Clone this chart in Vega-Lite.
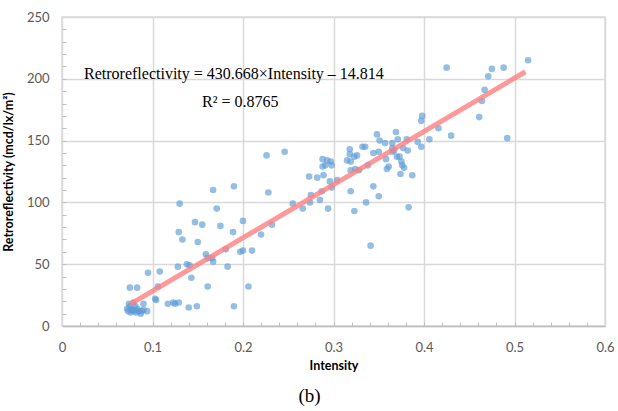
{
  "$schema": "https://vega.github.io/schema/vega-lite/v6.json",
  "width": 543,
  "height": 309,
  "autosize": "none",
  "padding": {"left": 62, "top": 17, "right": 13, "bottom": 85},
  "background": "white",
  "config": {
    "view": {"stroke": "#d9d9d9", "strokeWidth": 1.5},
    "axis": {
      "labelFont": "Lato", "labelFontSize": 13, "labelColor": "#595959",
      "titleFont": "Lato", "titleFontSize": 12.5, "titleFontWeight": "bold", "titleColor": "#000000",
      "gridColor": "#d9d9d9", "gridWidth": 1.5,
      "domainColor": "#bfbfbf", "domainWidth": 1.5,
      "tickColor": "#bfbfbf", "tickWidth": 1, "labelOverlap": false
    }
  },
  "title": {
    "text": "(b)", "orient": "bottom", "anchor": "middle", "dx": -24, "offset": 15,
    "font": "Liberation Serif", "fontSize": 19, "fontWeight": "normal", "color": "#000000"
  },
  "resolve": {"axis": {"x": "independent", "y": "independent"}},
  "datasets": {
    "pts": [
      {"x": 0.072, "y": 14}, {"x": 0.073, "y": 12}, {"x": 0.075, "y": 16}, {"x": 0.076, "y": 11},
      {"x": 0.078, "y": 13}, {"x": 0.079, "y": 19}, {"x": 0.08, "y": 12}, {"x": 0.082, "y": 11},
      {"x": 0.083, "y": 14}, {"x": 0.085, "y": 12}, {"x": 0.087, "y": 10}, {"x": 0.074, "y": 18},
      {"x": 0.081, "y": 16}, {"x": 0.077, "y": 13}, {"x": 0.09, "y": 13}, {"x": 0.088, "y": 12},
      {"x": 0.075, "y": 31}, {"x": 0.083, "y": 31},
      {"x": 0.095, "y": 43}, {"x": 0.108, "y": 44},
      {"x": 0.09, "y": 18}, {"x": 0.094, "y": 12},
      {"x": 0.106, "y": 32}, {"x": 0.103, "y": 22}, {"x": 0.104, "y": 21},
      {"x": 0.117, "y": 18}, {"x": 0.123, "y": 19}, {"x": 0.125, "y": 18}, {"x": 0.129, "y": 19},
      {"x": 0.128, "y": 48}, {"x": 0.133, "y": 70}, {"x": 0.129, "y": 76},
      {"x": 0.14, "y": 15}, {"x": 0.149, "y": 16}, {"x": 0.15, "y": 68},
      {"x": 0.143, "y": 39}, {"x": 0.138, "y": 50}, {"x": 0.141, "y": 49},
      {"x": 0.159, "y": 58}, {"x": 0.161, "y": 55}, {"x": 0.167, "y": 52}, {"x": 0.166, "y": 55},
      {"x": 0.161, "y": 32}, {"x": 0.181, "y": 62}, {"x": 0.183, "y": 48}, {"x": 0.19, "y": 16},
      {"x": 0.189, "y": 76}, {"x": 0.197, "y": 60}, {"x": 0.2, "y": 61}, {"x": 0.21, "y": 61},
      {"x": 0.206, "y": 32},
      {"x": 0.226, "y": 138}, {"x": 0.246, "y": 141}, {"x": 0.167, "y": 110}, {"x": 0.19, "y": 113},
      {"x": 0.228, "y": 108}, {"x": 0.13, "y": 99}, {"x": 0.171, "y": 95},
      {"x": 0.147, "y": 84}, {"x": 0.155, "y": 82}, {"x": 0.175, "y": 81}, {"x": 0.2, "y": 85},
      {"x": 0.22, "y": 74}, {"x": 0.232, "y": 82}, {"x": 0.255, "y": 99},
      {"x": 0.266, "y": 95}, {"x": 0.274, "y": 100}, {"x": 0.275, "y": 106}, {"x": 0.285, "y": 102},
      {"x": 0.287, "y": 109}, {"x": 0.294, "y": 95}, {"x": 0.296, "y": 117}, {"x": 0.304, "y": 118},
      {"x": 0.298, "y": 112}, {"x": 0.273, "y": 121}, {"x": 0.282, "y": 120}, {"x": 0.289, "y": 122},
      {"x": 0.288, "y": 129}, {"x": 0.288, "y": 135}, {"x": 0.293, "y": 134}, {"x": 0.297, "y": 133},
      {"x": 0.298, "y": 130}, {"x": 0.291, "y": 130},
      {"x": 0.318, "y": 143}, {"x": 0.318, "y": 139}, {"x": 0.315, "y": 134}, {"x": 0.319, "y": 133},
      {"x": 0.323, "y": 137}, {"x": 0.326, "y": 138}, {"x": 0.319, "y": 126}, {"x": 0.324, "y": 127},
      {"x": 0.328, "y": 126}, {"x": 0.338, "y": 130}, {"x": 0.332, "y": 145}, {"x": 0.335, "y": 145},
      {"x": 0.319, "y": 109}, {"x": 0.323, "y": 93}, {"x": 0.336, "y": 100}, {"x": 0.344, "y": 113},
      {"x": 0.35, "y": 105}, {"x": 0.341, "y": 65}, {"x": 0.383, "y": 96},
      {"x": 0.348, "y": 155}, {"x": 0.344, "y": 140}, {"x": 0.35, "y": 141}, {"x": 0.351, "y": 150},
      {"x": 0.357, "y": 148}, {"x": 0.358, "y": 135}, {"x": 0.359, "y": 127}, {"x": 0.361, "y": 129},
      {"x": 0.365, "y": 148}, {"x": 0.365, "y": 144}, {"x": 0.365, "y": 141}, {"x": 0.367, "y": 142},
      {"x": 0.369, "y": 157}, {"x": 0.371, "y": 151}, {"x": 0.37, "y": 137}, {"x": 0.373, "y": 137},
      {"x": 0.375, "y": 133}, {"x": 0.376, "y": 130}, {"x": 0.378, "y": 128}, {"x": 0.374, "y": 123},
      {"x": 0.377, "y": 144}, {"x": 0.381, "y": 151}, {"x": 0.382, "y": 142}, {"x": 0.387, "y": 122},
      {"x": 0.393, "y": 149}, {"x": 0.397, "y": 145}, {"x": 0.397, "y": 166}, {"x": 0.398, "y": 170},
      {"x": 0.406, "y": 151}, {"x": 0.416, "y": 160},
      {"x": 0.425, "y": 209}, {"x": 0.471, "y": 202}, {"x": 0.475, "y": 208}, {"x": 0.488, "y": 209},
      {"x": 0.515, "y": 215}, {"x": 0.467, "y": 191}, {"x": 0.464, "y": 182}, {"x": 0.461, "y": 169},
      {"x": 0.492, "y": 152}, {"x": 0.43, "y": 154}
    ],
    "fit": [
      {"x": 0.075, "y": 17.5},
      {"x": 0.512, "y": 205.7}
    ],
    "labels": [
      {"x": 0.19, "y": 204, "t": "Retroreflectivity = 430.668×Intensity – 14.814"},
      {"x": 0.197, "y": 181, "t": "R² = 0.8765"}
    ]
  },
  "layer": [
    {
      "data": {"name": "pts"},
      "mark": {"type": "circle", "size": 44, "color": "#5b9bd5", "opacity": 0.65},
      "encoding": {
        "x": {
          "field": "x", "type": "quantitative",
          "scale": {"domain": [0, 0.6], "nice": false},
          "axis": {
            "orient": "bottom", "title": "Intensity", "titlePadding": 5,
            "values": [0, 0.1, 0.2, 0.3, 0.4, 0.5, 0.6], "format": ".1~f",
            "ticks": false, "labelPadding": 15, "labelFlush": false
          }
        },
        "y": {
          "field": "y", "type": "quantitative",
          "scale": {"domain": [0, 250], "nice": false},
          "axis": {
            "orient": "left", "title": "Retroreflectivity (mcd/lx/m²)", "titlePadding": 11,
            "values": [0, 50, 100, 150, 200, 250],
            "ticks": false, "labelPadding": 13, "domain": false, "labelFlush": false
          }
        }
      }
    },
    {
      "data": {"name": "fit"},
      "mark": {"type": "line", "color": "#ff7f7f", "strokeWidth": 5, "opacity": 0.8},
      "encoding": {
        "x": {
          "field": "x", "type": "quantitative",
          "axis": {
            "orient": "bottom", "title": null, "labels": false, "grid": false, "domain": false,
            "values": [0.02, 0.04, 0.06, 0.08, 0.1, 0.12, 0.14, 0.16, 0.18, 0.2, 0.22, 0.24, 0.26, 0.28, 0.3, 0.32, 0.34, 0.36, 0.38, 0.4, 0.42, 0.44, 0.46, 0.48, 0.5, 0.52, 0.54, 0.56, 0.58],
            "tickSize": -4
          }
        },
        "y": {
          "field": "y", "type": "quantitative",
          "axis": {
            "orient": "left", "title": null, "labels": false, "grid": false, "domain": false,
            "values": [10, 20, 30, 40, 50, 60, 70, 80, 90, 100, 110, 120, 130, 140, 150, 160, 170, 180, 190, 200, 210, 220, 230, 240],
            "tickSize": -4
          }
        }
      }
    },
    {
      "data": {"name": "labels"},
      "mark": {"type": "text", "font": "Liberation Serif", "fontSize": 16, "color": "#000000", "align": "center", "baseline": "middle"},
      "encoding": {
        "x": {"field": "x", "type": "quantitative", "axis": null},
        "y": {"field": "y", "type": "quantitative", "axis": null},
        "text": {"field": "t"}
      }
    }
  ]
}
